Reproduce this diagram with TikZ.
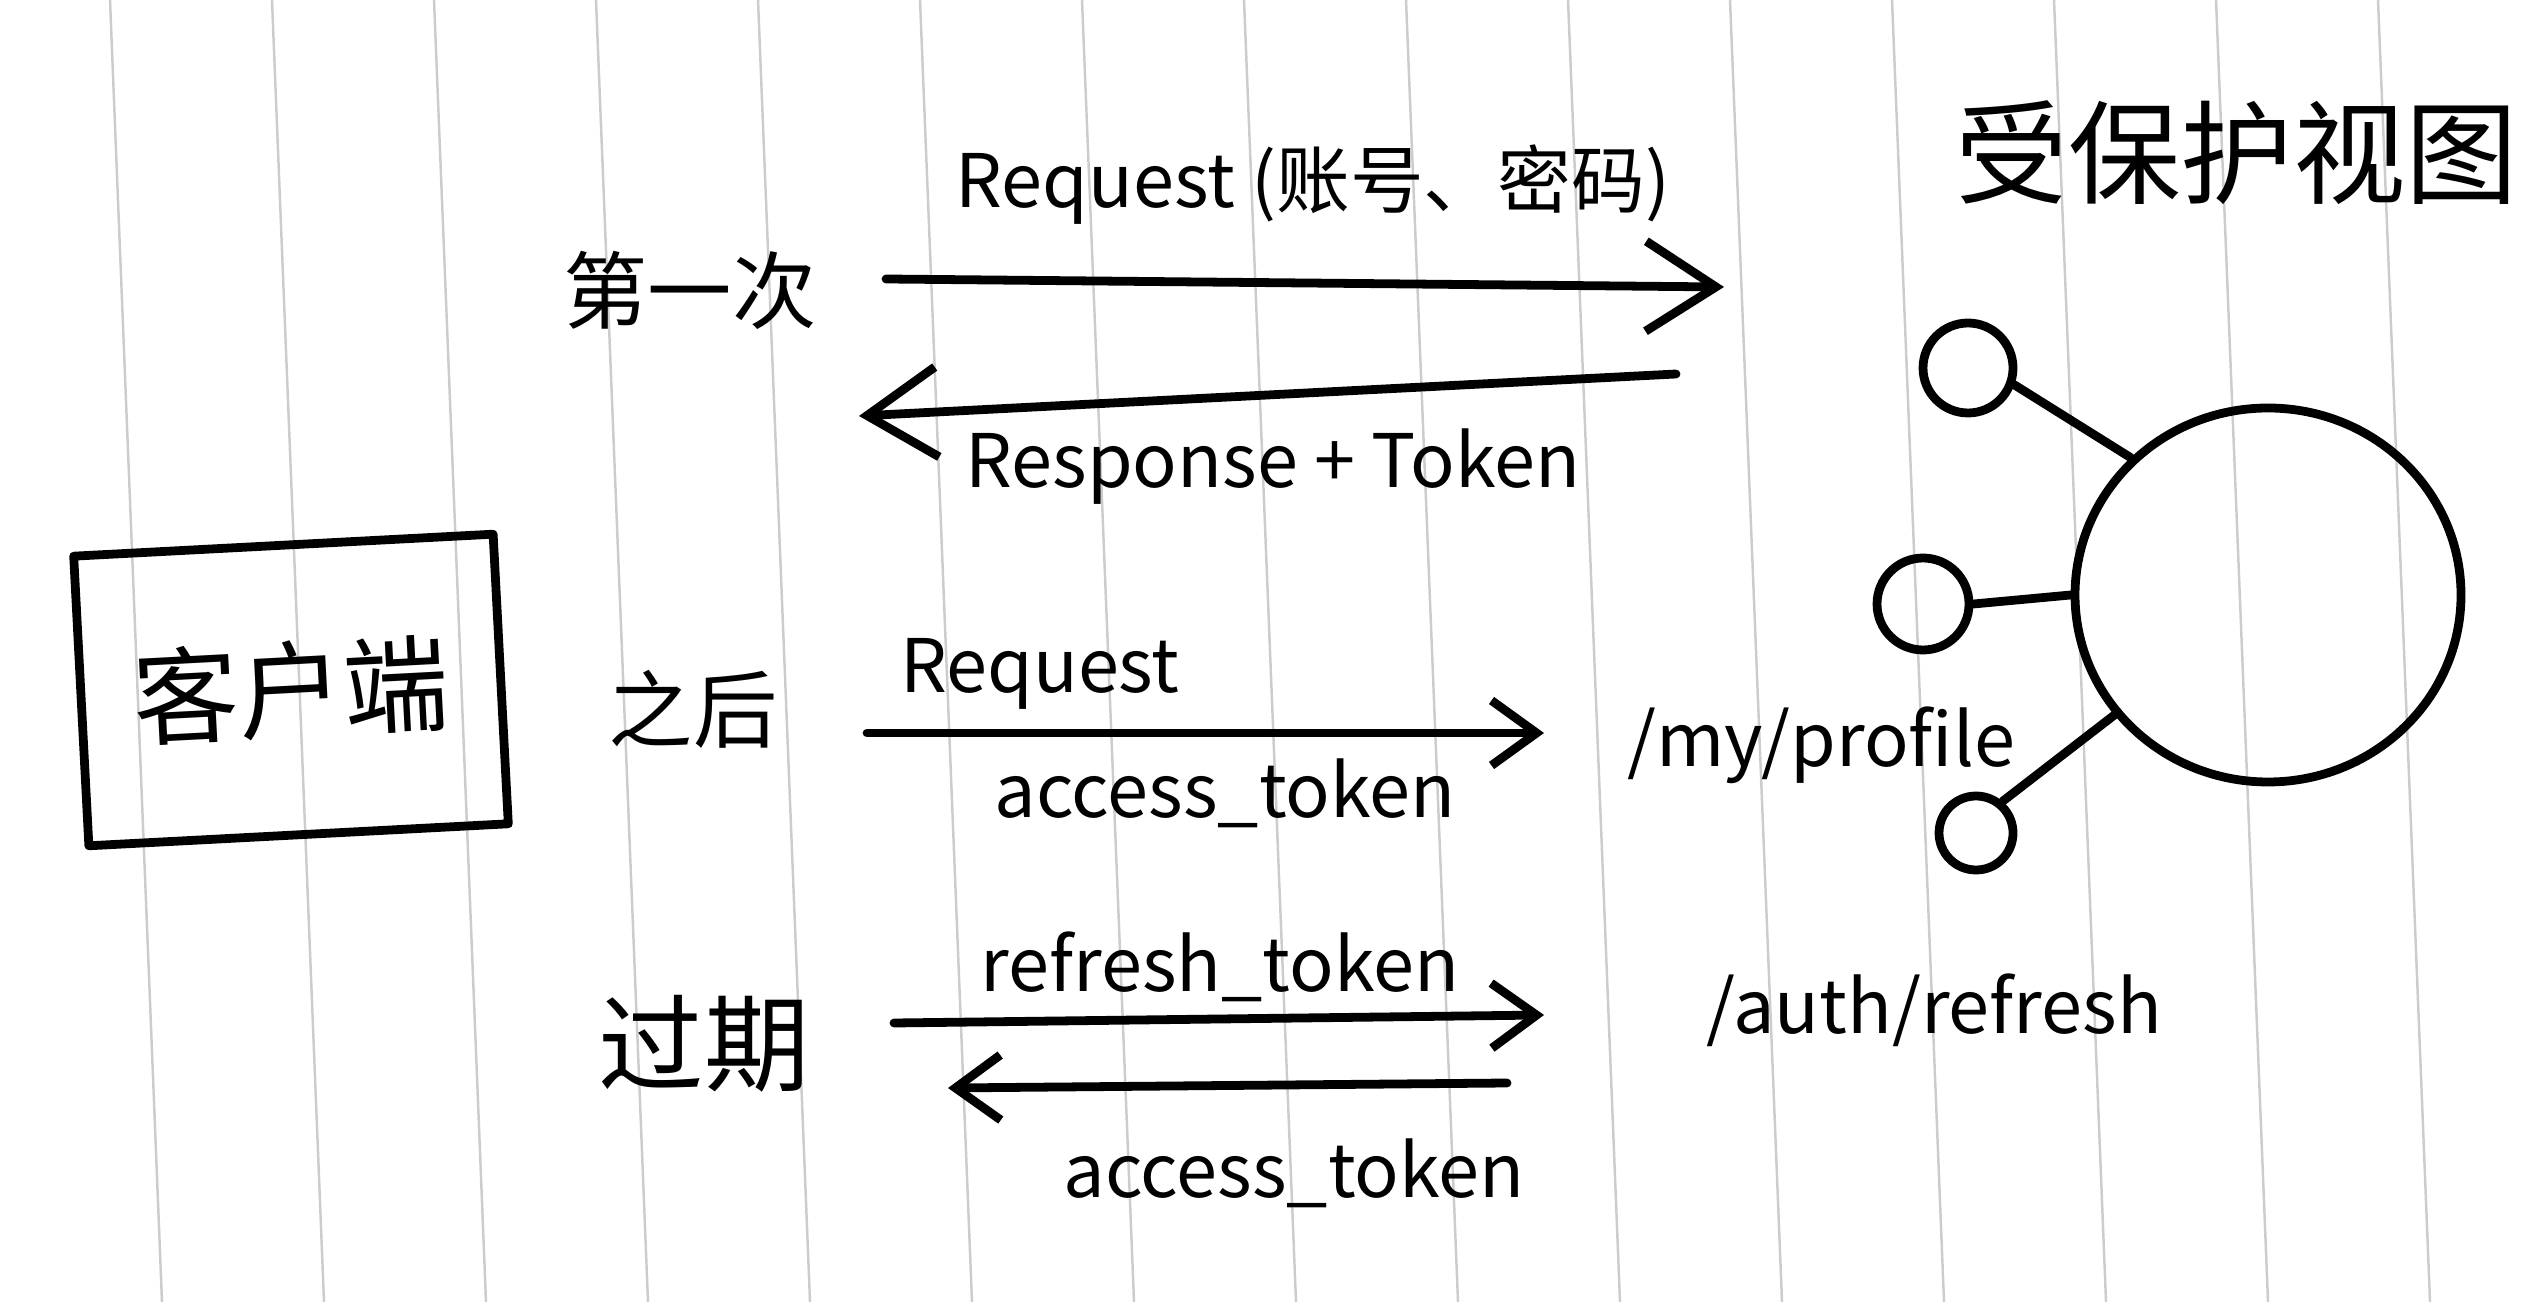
\documentclass[tikz,border=0pt]{standalone}
\usepackage{fontspec}
\setmainfont{Noto Sans CJK SC}
\usetikzlibrary{arrows.meta, positioning, shapes.geometric}

\begin{document}
\begin{tikzpicture}[
    font=\fontsize{21}{25}\selectfont,
    ruling/.style={line width=0.7pt, black!20},
    pen/.style={line width=2.5pt, black, line cap=round, line join=round},
    bigarrow/.style={pen, -{Straight Barb[length=7mm, width=9mm]}},
    smallarrow/.style={pen, -{Straight Barb[length=4.5mm, width=6.5mm]}},
    label/.style={font=\fontsize{21}{25}\selectfont, inner sep=0pt},
    stage/.style={font=\fontsize{24}{28}\selectfont, inner sep=0pt},
    endpoint/.style={pen, draw, circle, inner sep=0pt}
]

\useasboundingbox (0,0) rectangle (25.27,13.02);
\clip (0,0) rectangle (25.27,13.02);

% Ruled paper
\foreach \i in {0,...,15} {
    \draw[ruling] ({1.10+1.62*\i},13.02) -- ({1.62+1.62*\i},0);
}

% ===== Client =====
\node[pen, draw, rotate=3, minimum width=4.2cm, minimum height=2.9cm,
      font=\fontsize{30}{34}\selectfont] (client) at (2.91,6.12) {客户端};

% ===== Stage labels =====
\node[stage] (first) at (6.90,10.12) {第一次};
\node[stage] (after) at (6.93,5.93) {之后};
\node[stage, font=\fontsize{30}{34}\selectfont] (expired) at (7.04,2.58) {过期};

% ===== First request =====
\coordinate (req1-from) at (8.86,10.23);
\coordinate (req1-to) at (17.24,10.15);
\coordinate (resp1-from) at (16.76,9.28);
\coordinate (resp1-to) at (8.59,8.86);
\draw[bigarrow] (req1-from) -- (req1-to);
\draw[bigarrow] (resp1-from) -- (resp1-to);
\node[label] (login) at (13.13,11.17) {Request (账号、密码)};
\node[label] (token) at (12.73,8.35) {Response + Token};

% ===== Later requests =====
\coordinate (req2-from) at (8.67,5.69);
\coordinate (req2-to) at (15.44,5.69);
\draw[smallarrow] (req2-from) -- (req2-to);
\node[label] (request) at (10.40,6.28) {Request};
\node[label] (access1) at (12.25,5.09) {access\_token};
\node[label] (profile) at (18.21,5.57) {/my/profile};

% ===== Expired token =====
\coordinate (ref-from) at (8.94,2.79);
\coordinate (ref-to) at (15.44,2.87);
\coordinate (new-from) at (15.07,2.19);
\coordinate (new-to) at (9.48,2.14);
\draw[smallarrow] (ref-from) -- (ref-to);
\draw[smallarrow] (new-from) -- (new-to);
\node[label] (refresh) at (12.20,3.35) {refresh\_token};
\node[label] (access2) at (12.94,1.29) {access\_token};
\node[label] (authpath) at (19.34,2.92) {/auth/refresh};

% ===== Protected view =====
\node[anchor=west, inner sep=0pt, font=\fontsize{32}{36}\selectfont] (title) at (19.55,11.49) {受保护视图};
\node[pen, draw, ellipse, minimum width=3.86cm, minimum height=3.74cm, inner sep=0pt] (view) at (22.68,7.07) {};
\node[endpoint, minimum size=0.9cm] (c1) at (19.68,9.34) {};
\node[endpoint, minimum size=0.92cm] (c2) at (19.23,6.98) {};
\node[endpoint, minimum size=0.74cm] (c3) at (19.76,4.69) {};
\draw[pen] (c1.-20) -- (view.135);
\draw[pen] (c2.east) -- (view.west);
\draw[pen] (c3.50) -- (view.218);

\end{tikzpicture}
\end{document}
